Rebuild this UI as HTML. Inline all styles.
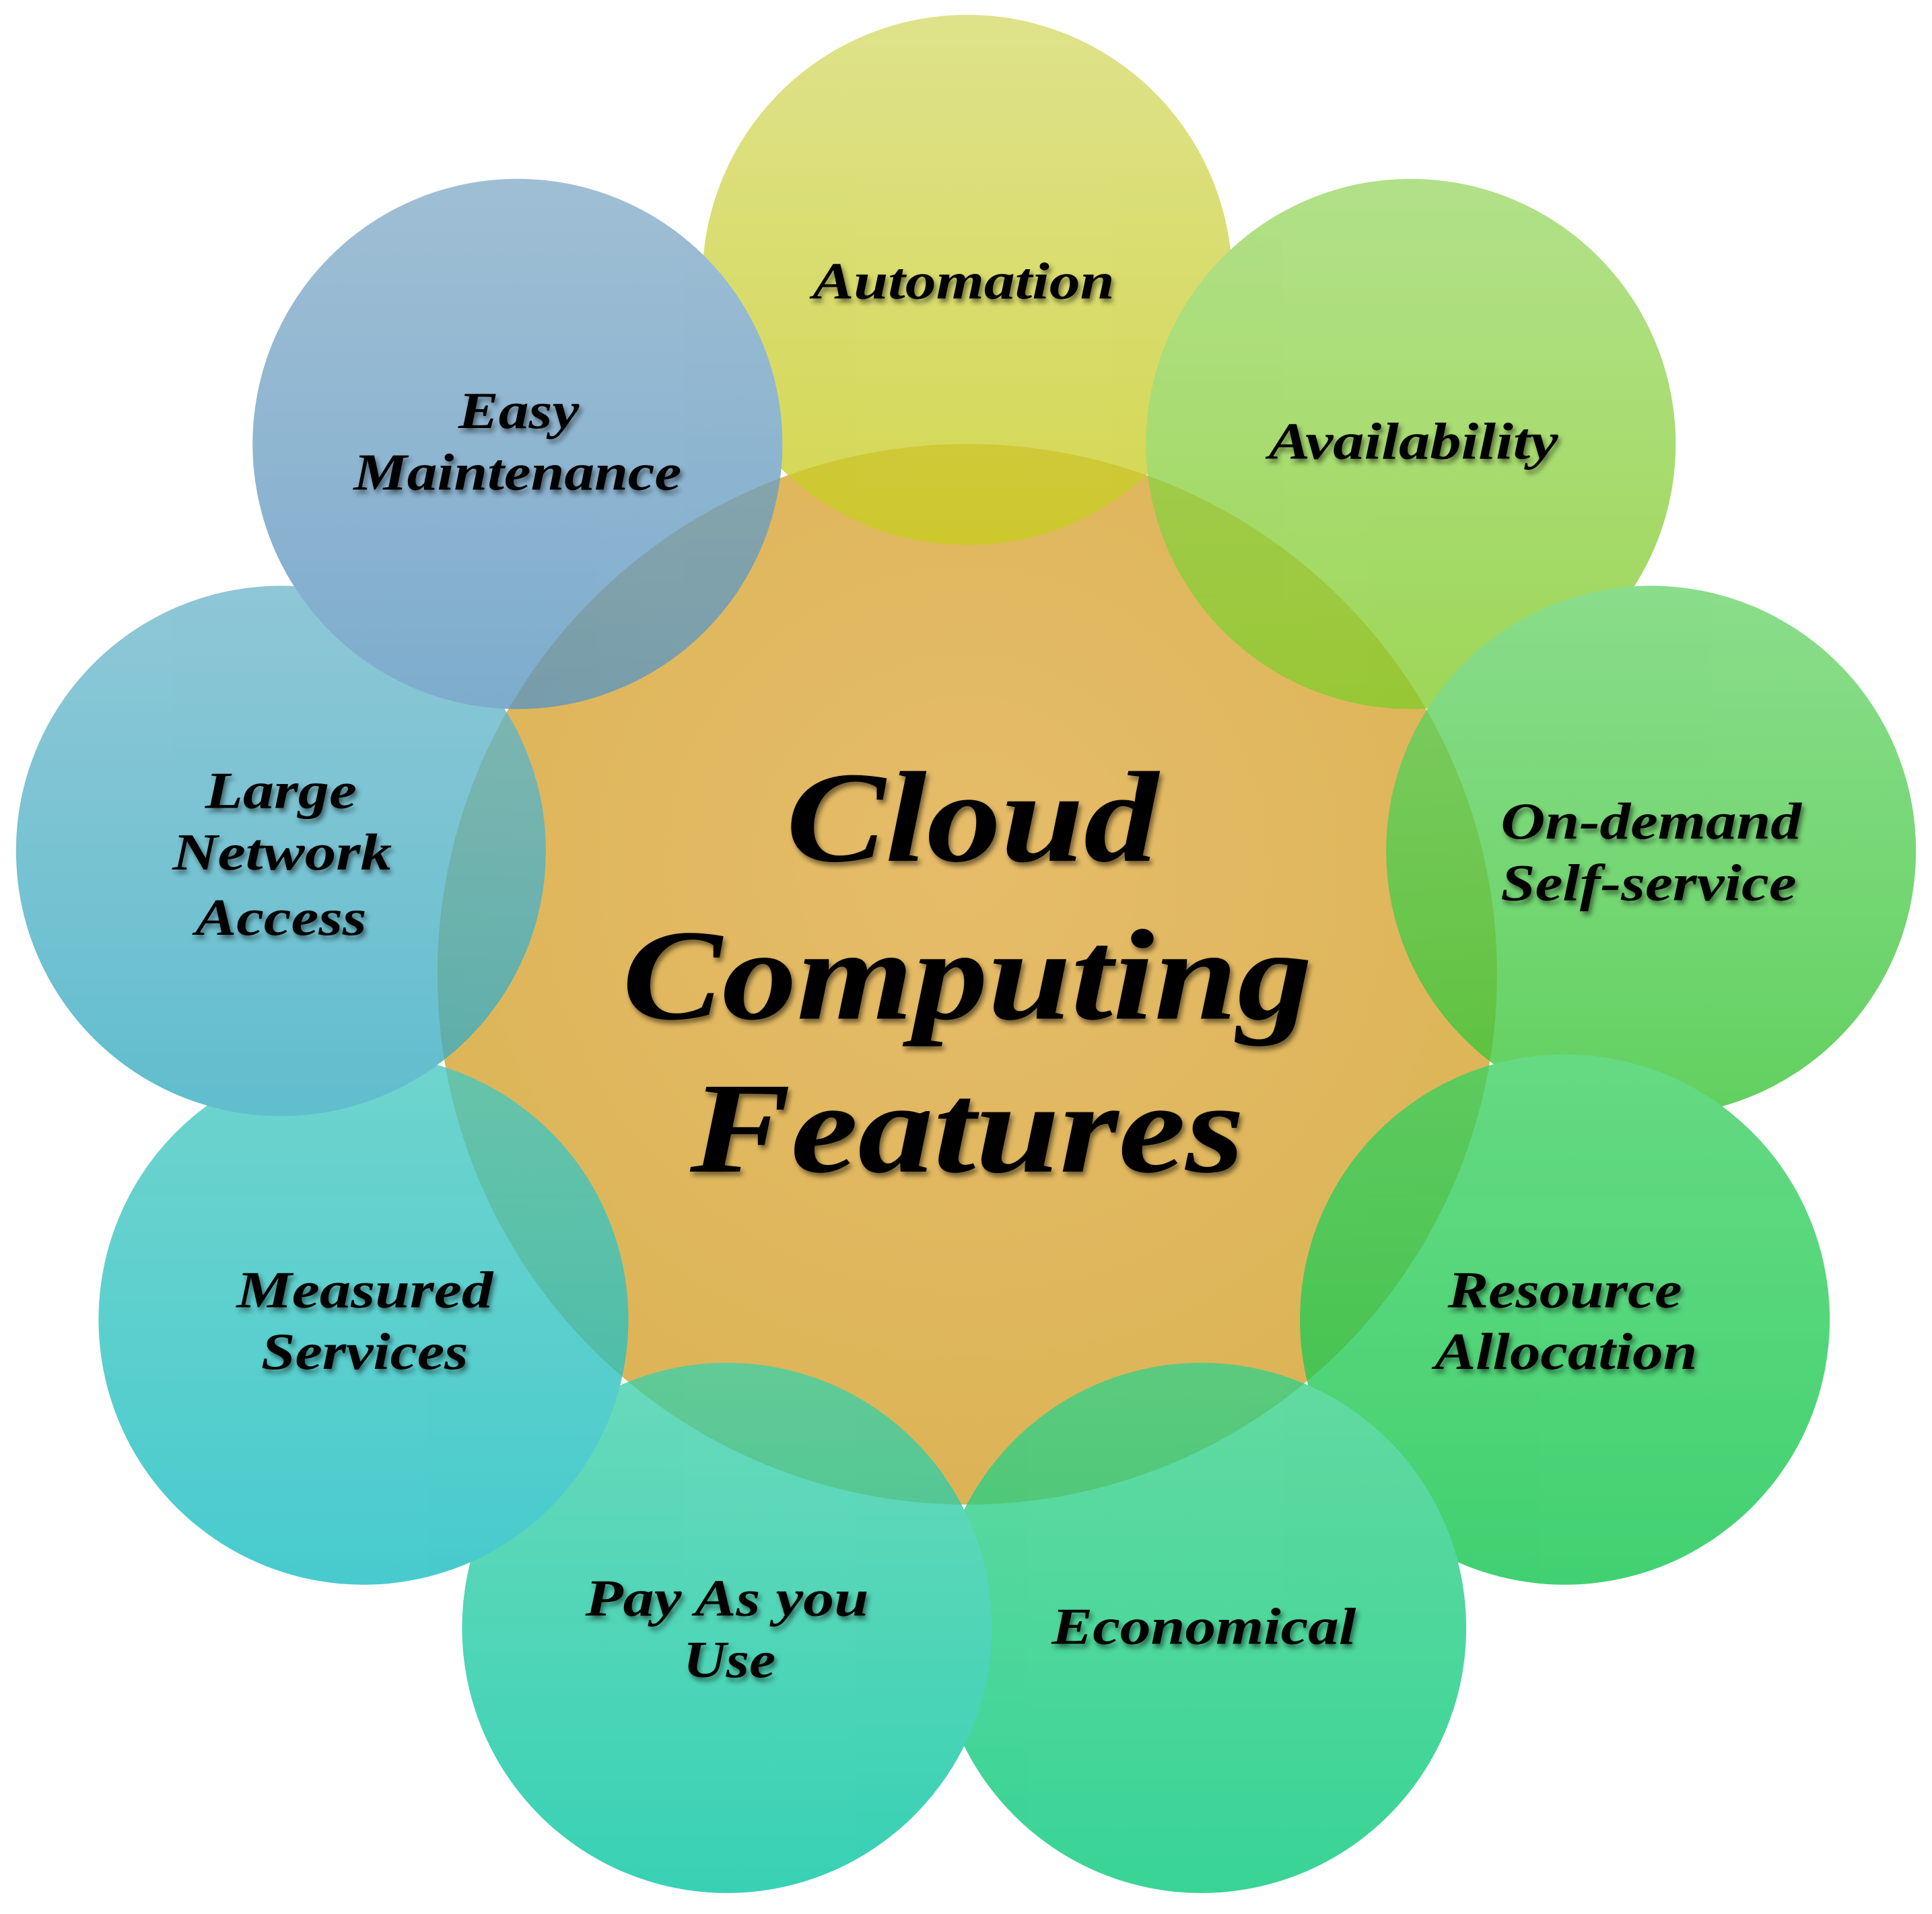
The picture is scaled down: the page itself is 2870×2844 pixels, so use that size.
<!DOCTYPE html>
<html><head><meta charset="utf-8"><style>
html,body{margin:0;padding:0;background:#fff;}
svg{display:block;}
text{font-family:"Liberation Serif",serif;font-weight:bold;font-style:italic;fill:#000;text-anchor:middle;}
</style></head><body>
<svg width="2870" height="2844" viewBox="0 0 1568 1552" preserveAspectRatio="none" xmlns="http://www.w3.org/2000/svg">
<defs>
<filter id="sh" x="-20%" y="-20%" width="140%" height="140%"><feGaussianBlur in="SourceAlpha" stdDeviation="2"/><feOffset dx="2" dy="3"/><feComponentTransfer><feFuncA type="linear" slope="0.5"/></feComponentTransfer><feMerge><feMergeNode/><feMergeNode in="SourceGraphic"/></feMerge></filter>
<radialGradient id="gc" cx="50%" cy="40%" r="60%"><stop offset="0" stop-color="#e6bc6a"/><stop offset="1" stop-color="#dcb456"/></radialGradient>
<linearGradient id="g1" x1="0" y1="0" x2="0" y2="1"><stop offset="0" stop-color="#d5da6a"/><stop offset="1" stop-color="#c8cc20"/></linearGradient>
<linearGradient id="g2" x1="0" y1="0" x2="0" y2="1"><stop offset="0" stop-color="#9cd868"/><stop offset="1" stop-color="#84cc2a"/></linearGradient>
<linearGradient id="g3" x1="0" y1="0" x2="0" y2="1"><stop offset="0" stop-color="#6ad46a"/><stop offset="1" stop-color="#36c434"/></linearGradient>
<linearGradient id="g4" x1="0" y1="0" x2="0" y2="1"><stop offset="0" stop-color="#3cd060"/><stop offset="1" stop-color="#0cc44a"/></linearGradient>
<linearGradient id="g5" x1="0" y1="0" x2="0" y2="1"><stop offset="0" stop-color="#38d088"/><stop offset="1" stop-color="#00c878"/></linearGradient>
<linearGradient id="g6" x1="0" y1="0" x2="0" y2="1"><stop offset="0" stop-color="#40d0a8"/><stop offset="1" stop-color="#00c4a0"/></linearGradient>
<linearGradient id="g7" x1="0" y1="0" x2="0" y2="1"><stop offset="0" stop-color="#48c8c0"/><stop offset="1" stop-color="#14bcc0"/></linearGradient>
<linearGradient id="g8" x1="0" y1="0" x2="0" y2="1"><stop offset="0" stop-color="#70b8cc"/><stop offset="1" stop-color="#34acc0"/></linearGradient>
<linearGradient id="g9" x1="0" y1="0" x2="0" y2="1"><stop offset="0" stop-color="#84acc8"/><stop offset="1" stop-color="#5a96c0"/></linearGradient>
</defs>
<circle cx="785" cy="790" r="430" fill="url(#gc)"/>
<g opacity="0.78">
<circle cx="785" cy="227" r="215" fill="url(#g1)"/>
<circle cx="1145" cy="360" r="215" fill="url(#g2)"/>
<circle cx="1340" cy="690" r="215" fill="url(#g3)"/>
<circle cx="1270" cy="1070" r="215" fill="url(#g4)"/>
<circle cx="975" cy="1320" r="215" fill="url(#g5)"/>
<circle cx="590" cy="1320" r="215" fill="url(#g6)"/>
<circle cx="295" cy="1070" r="215" fill="url(#g7)"/>
<circle cx="228" cy="690" r="215" fill="url(#g8)"/>
<circle cx="420" cy="360" r="215" fill="url(#g9)"/>
</g>
<g filter="url(#sh)">
<text x="789" y="698" font-size="105" textLength="302" lengthAdjust="spacingAndGlyphs">Cloud</text>
<text x="785" y="826" font-size="105" textLength="560" lengthAdjust="spacingAndGlyphs">Computing</text>
<text x="785" y="950" font-size="105" textLength="450" lengthAdjust="spacingAndGlyphs">Features</text>
<g font-size="42">
<text x="782" y="242" textLength="245" lengthAdjust="spacingAndGlyphs">Automation</text>
<text x="1147" y="372" textLength="235" lengthAdjust="spacingAndGlyphs">Availability</text>
<text x="1340" y="680" textLength="244" lengthAdjust="spacingAndGlyphs">On-demand</text>
<text x="1338" y="730" textLength="240" lengthAdjust="spacingAndGlyphs">Self-service</text>
<text x="1270" y="1060" textLength="190" lengthAdjust="spacingAndGlyphs">Resource</text>
<text x="1271" y="1110" textLength="213" lengthAdjust="spacingAndGlyphs">Allocation</text>
<text x="977" y="1333" textLength="247" lengthAdjust="spacingAndGlyphs">Economical</text>
<text x="590" y="1310" textLength="230" lengthAdjust="spacingAndGlyphs">Pay As you</text>
<text x="592" y="1360" textLength="75" lengthAdjust="spacingAndGlyphs">Use</text>
<text x="296" y="1060" textLength="208" lengthAdjust="spacingAndGlyphs">Measured</text>
<text x="296" y="1110" textLength="168" lengthAdjust="spacingAndGlyphs">Services</text>
<text x="228" y="655" textLength="123" lengthAdjust="spacingAndGlyphs">Large</text>
<text x="229" y="705" textLength="178" lengthAdjust="spacingAndGlyphs">Network</text>
<text x="228" y="758" textLength="139" lengthAdjust="spacingAndGlyphs">Access</text>
<text x="421" y="347" textLength="98" lengthAdjust="spacingAndGlyphs">Easy</text>
<text x="420" y="397" textLength="266" lengthAdjust="spacingAndGlyphs">Maintenance</text>
</g>
</g>
</svg>
</body></html>
